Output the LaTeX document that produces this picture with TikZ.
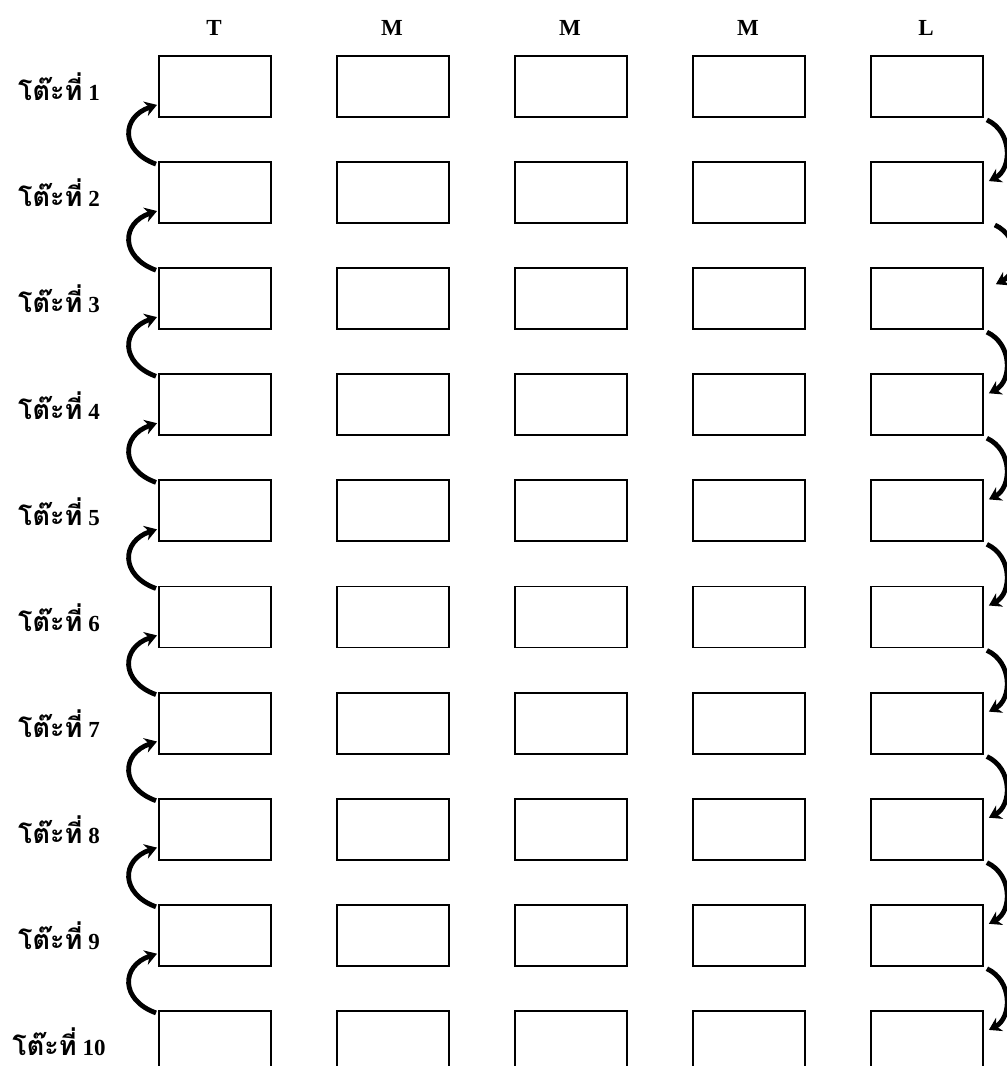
\documentclass[tikz,border=0pt]{standalone}
\usepackage{fontspec}
\setmainfont{Liberation Serif}
\newfontfamily\thaifont[Script=Thai]{Loma}
\usetikzlibrary{arrows.meta}
\begin{document}
\begin{tikzpicture}[x=1pt,y=-1pt,
  seat/.style={draw,line width=1.9pt,minimum width=112pt,minimum height=61pt,inner sep=0pt,anchor=north west},
  head/.style={font=\fontsize{23}{23}\selectfont\bfseries},
  rowlbl/.style={font=\fontsize{23}{23}\selectfont\bfseries,inner sep=0pt},
  turn/.style={line width=4.8pt,-{Stealth[length=12pt,width=15pt]}}]
\useasboundingbox (0,0) rectangle (1007,1066);
% headers
\foreach \c/\t in {1/T,2/M,3/M,4/M,5/L}
  \node[head] (h\c) at ({214+178*(\c-1)},28) {\t};
% boxes and labels
\foreach \r in {1,...,10}{
  \foreach \c in {1,...,5}
    \node[seat] (b\r-\c) at ({158+178*(\c-1)},{55+106.1*(\r-1)}) {};
  \node[rowlbl] (l\r) at (59,{87+106.1*(\r-1)}) {{\thaifont\bfseries\fontsize{27}{27}\selectfont โต๊ะที่} \r};
}
% left arrows (upward)
\foreach \r [evaluate=\r as \n using int(\r+1)] in {1,...,9}
  \draw[turn] ([shift={(-2,3)}]b\n-1.north west) .. controls +(-36,-13) and +(-36,12) .. ([shift={(-1,-13)}]b\r-1.south west);
% right arrows (downward)
\foreach \r [evaluate=\r as \n using int(\r+1)] in {1,3,4,5,6,7,8,9}
  \draw[turn] ([shift={(3,2)}]b\r-5.south east) .. controls +(26,12) and +(23,-12) .. ([shift={(5,20)}]b\n-5.north east);
\draw[turn] ([shift={(11,1)}]b2-5.south east) .. controls +(26,12) and +(23,-12) .. ([shift={(12,17)}]b3-5.north east);
\end{tikzpicture}
\end{document}
